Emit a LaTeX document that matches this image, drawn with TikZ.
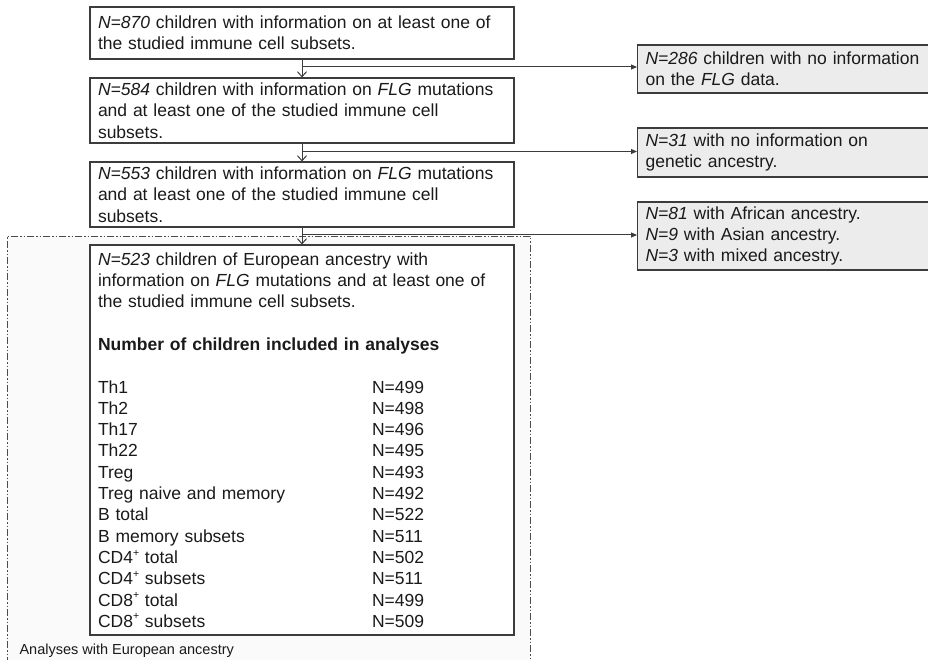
\documentclass[tikz,border=0pt]{standalone}
\usepackage{fontspec}
\setmainfont{Liberation Sans}
\usetikzlibrary{arrows.meta}
\definecolor{bordercol}{HTML}{3C3C3C}
\definecolor{sidefill}{HTML}{ECECEC}
\definecolor{framefill}{HTML}{FAFAFA}
\definecolor{txtcol}{HTML}{1A1A1A}
\newcommand{\tabrow}[2]{\makebox[274pt][l]{#1}#2}
\newcommand{\supplus}{\raisebox{0.42em}{\fontsize{10.5}{10}\selectfont+}}
\begin{document}
\begin{tikzpicture}[x=1pt,y=-1pt,
  every node/.style={font=\fontsize{17.5}{21.3}\selectfont, text=txtcol},
  mainbox/.style={draw=bordercol, line width=1.1pt, fill=white, inner xsep=8pt, inner ysep=0pt,
    text width=408pt, align=left, minimum width=424pt},
  sidebox/.style={draw=bordercol, line width=1.1pt, fill=sidefill, inner xsep=8pt, inner ysep=0pt,
    text width=284pt, align=left, minimum width=300pt, anchor=west},
  vline/.style={draw=bordercol, line width=1pt, -{Straight Barb[length=5pt,width=9pt]}},
  hline/.style={draw=bordercol, line width=1pt, -{Triangle[length=6pt,width=5pt]}},
  frame/.style={draw=black!70, line width=0.9pt,
    dash pattern=on 7pt off 2pt on 1.5pt off 2pt on 1.5pt off 2pt, fill=framefill}]
\useasboundingbox (0,0) rectangle (928,660);
\clip (0,0) rectangle (928,660);

% frame of the European-ancestry analyses
\path[frame] (7,680) -- (7,236) -- (530,236) -- (530,680);
\node[anchor=west, font=\fontsize{14.5}{17}\selectfont] (lab) at (16,651) {Analyses with European ancestry};

% main boxes
\node[mainbox, minimum height=52pt] (b1) at (302,33)
  {\textit{N=870} children with information on at least one of\\the studied immune cell subsets.};
\node[mainbox, minimum height=65pt] (b2) at (302,110.5)
  {\textit{N=584} children with information on \textit{FLG} mutations\\and at least one of the studied immune cell\\subsets.};
\node[mainbox, minimum height=65pt] (b3) at (302,194.5)
  {\textit{N=553} children with information on \textit{FLG} mutations\\and at least one of the studied immune cell\\subsets.};
\node[mainbox, minimum height=390pt] (b4) at (302,440)
  {\textit{N=523} children of European ancestry with\\
   information on \textit{FLG} mutations and at least one of\\
   the studied immune cell subsets.\\[21.3pt]
   \textbf{Number of children included in analyses}\\[21.3pt]
   \tabrow{Th1}{N=499}\\
   \tabrow{Th2}{N=498}\\
   \tabrow{Th17}{N=496}\\
   \tabrow{Th22}{N=495}\\
   \tabrow{Treg}{N=493}\\
   \tabrow{Treg naive and memory}{N=492}\\
   \tabrow{B total}{N=522}\\
   \tabrow{B memory subsets}{N=511}\\
   \tabrow{CD4\supplus{} total}{N=502}\\
   \tabrow{CD4\supplus{} subsets}{N=511}\\
   \tabrow{CD8\supplus{} total}{N=499}\\
   \tabrow{CD8\supplus{} subsets}{N=509}};

% side boxes
\node[sidebox, minimum height=48pt] (s1) at (637,69)
  {\textit{N=286} children with no information\\on the \textit{FLG} data.};
\node[sidebox, minimum height=49pt] (s2) at (637,152.5)
  {\textit{N=31} with no information on\\genetic ancestry.};
\node[sidebox, minimum height=68pt] (s3) at (637,236)
  {\textit{N=81} with African ancestry.\\\textit{N=9} with Asian ancestry.\\\textit{N=3} with mixed ancestry.};

% junctions
\coordinate (j1) at (302,67);
\coordinate (j2) at (302,151.5);
\coordinate (j3) at (302,235);

% connectors
\draw[vline] (b1) -- (b2);
\draw[vline] (b2) -- (b3);
\draw[vline] (b3) -- (b4);
\draw[hline] (j1) -- (j1 -| s1.west);
\draw[hline] (j2) -- (j2 -| s2.west);
\draw[hline] (j3) -- (j3 -| s3.west);
\end{tikzpicture}
\end{document}
